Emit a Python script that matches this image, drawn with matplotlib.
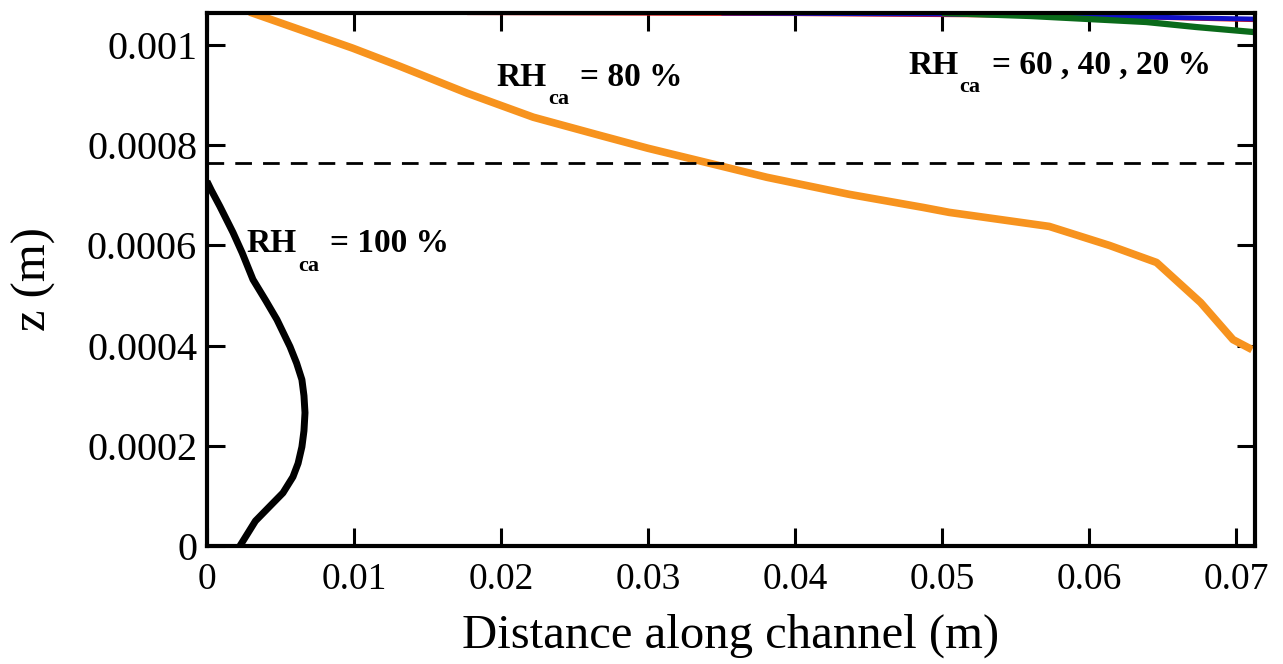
import numpy as np
import matplotlib.pyplot as plt

plt.rcParams['font.family'] = ['Liberation Serif', 'DejaVu Serif']

# RH_ca = 100 % (black)
x_100 = [0.00224, 0.0033, 0.0043, 0.00517, 0.00585, 0.0062, 0.00646, 0.0066, 0.00667,
         0.0066, 0.00646, 0.0061, 0.00565, 0.00476, 0.0040, 0.00313, 0.0024, 0.00177,
         0.00088, 0.0003, 0.0]
z_100 = [0.0, 0.00005, 0.00008, 0.000106, 0.000138, 0.000165, 0.000198, 0.00023,
         0.000266, 0.0003, 0.000332, 0.000365, 0.000398, 0.000452, 0.00049, 0.000532,
         0.000585, 0.000626, 0.000678, 0.00071, 0.000728]

# RH_ca = 80 % (orange)
x_80 = [0.0029, 0.0099, 0.0131, 0.0177, 0.0222, 0.0267, 0.030, 0.0342, 0.0381,
        0.0437, 0.0487, 0.0505, 0.0573, 0.0614, 0.0646, 0.0676, 0.0698, 0.0711]
z_80 = [0.001066, 0.000994, 0.000958, 0.000904, 0.000856, 0.000820, 0.000794,
        0.000764, 0.000736, 0.000702, 0.000676, 0.000666, 0.000638, 0.000600,
        0.000566, 0.000486, 0.000412, 0.000392]

# RH_ca = 60, 40, 20 % (hugging the top)
x_60 = [0.0177, 0.04, 0.06, 0.0712]
z_60 = [0.001064, 0.001062, 0.001058, 0.00105]
x_40 = [0.035, 0.05, 0.062, 0.0712]
z_40 = [0.001064, 0.001062, 0.001057, 0.001052]
x_20 = [0.05, 0.056, 0.0639, 0.0673, 0.0712]
z_20 = [0.001064, 0.001058, 0.001046, 0.001036, 0.001026]

z_dash = 0.000764

xticks = [0, 0.01, 0.02, 0.03, 0.04, 0.05, 0.06, 0.07]
xticklabels = ['0', '0.01', '0.02', '0.03', '0.04', '0.05', '0.06', '0.07']
yticks = [0, 0.0002, 0.0004, 0.0006, 0.0008, 0.001]
yticklabels = ['0', '0.0002', '0.0004', '0.0006', '0.0008', '0.001']

fig = plt.figure(figsize=(12.83, 6.64), dpi=100)
ax = fig.add_axes([0.1613, 0.1777, 0.8169, 0.8027])

ax.plot(x_60, z_60, color='#e01010', lw=3, solid_capstyle='butt')
ax.plot(x_40, z_40, color='#1010c8', lw=3.5, solid_capstyle='butt')
ax.plot(x_20, z_20, color='#0a6a1a', lw=4.5, solid_capstyle='butt')
ax.plot(x_80, z_80, color='#f7931e', lw=5.5, solid_capstyle='butt')
ax.plot(x_100, z_100, color='black', lw=5, solid_capstyle='butt')
ax.axhline(z_dash, color='black', lw=2, dashes=(6, 4))

ax.set_xlim(0, 0.0713)
ax.set_ylim(0, 0.001064)
ax.set_xticks(xticks)
ax.set_xticklabels(xticklabels)
ax.set_yticks(yticks)
ax.set_yticklabels(yticklabels)
ax.tick_params(direction='in', length=13, width=2.2, top=True, right=True)
ax.tick_params(axis='x', pad=12, labelsize=27)
ax.tick_params(axis='y', pad=7, labelsize=29)
for s in ax.spines.values():
    s.set_linewidth(3)

ax.set_xlabel('Distance along channel (m)', fontsize=35, labelpad=12)
ax.set_ylabel('z (m)', fontsize=35, labelpad=22)


def rh_label(x, z, rest):
    t = ax.text(x, z, 'RH', fontsize=24, fontweight='bold', va='baseline')
    fig.canvas.draw()
    w = t.get_window_extent().width * 72 / fig.dpi
    ax.annotate('ca', (x, z), xytext=(w + 1, -13), textcoords='offset points',
                fontsize=16, fontweight='bold', va='baseline')
    ax.annotate(rest, (x, z), xytext=(w + 24, 0), textcoords='offset points',
                fontsize=24, fontweight='bold', va='baseline')


rh_label(0.0197, 0.000918, '= 80 %')
rh_label(0.00272, 0.000586, '= 100 %')
rh_label(0.0477, 0.000942, '= 60 , 40 , 20 %')

fig.savefig('out.png', dpi=100)
